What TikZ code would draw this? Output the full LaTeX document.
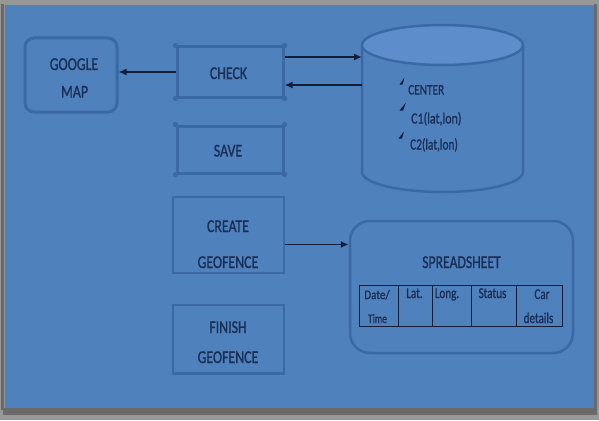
\documentclass[tikz,border=0pt]{standalone}
\usepackage{graphicx}
\usepackage{fontspec}
\setmainfont{Carlito}
\newfontfamily\lblfont[FakeBold=1.2]{Carlito}
\usetikzlibrary{arrows.meta,calc}
\definecolor{bgblue}{HTML}{4F81BD}
\definecolor{edgeblue}{HTML}{3B69A6}
\definecolor{topblue}{HTML}{5D8DCB}
\definecolor{ink}{HTML}{1A2F56}
\definecolor{arrowink}{HTML}{111E3A}
\definecolor{framegray}{HTML}{6A6A6A}
\newcommand\sq[2][0.77]{\scalebox{#1}[1]{#2}}
\tikzset{
  txt/.style={text=ink, inner sep=0pt, anchor=base, font=\lblfont\fontsize{18}{20}\selectfont},
  dbtxt/.style={text=ink, inner sep=0pt, anchor=base west, font=\lblfont\fontsize{15.5}{18}\selectfont},
  celltxt/.style={text=ink, inner sep=0pt, anchor=base, font=\lblfont\fontsize{15}{18}\selectfont},
  roundbox/.style={draw=edgeblue, line width=3pt, rounded corners=9pt, inner sep=0pt},
  thickbox/.style={draw=edgeblue, line width=3pt, inner sep=0pt},
  thinbox/.style={draw=edgeblue, line width=1.6pt, inner sep=0pt},
  conn/.style={draw=arrowink, line width=1.7pt, -{Latex[length=8pt,width=7pt]}},
  cell/.style={draw=arrowink, line width=1.2pt, minimum height=41pt, inner sep=0pt, anchor=north west},
  bullet/.style={fill=arrowink, draw=none}
}
\begin{document}
\begin{tikzpicture}[x=1pt,y=-1pt]
\useasboundingbox (0,0) rectangle (599,420);
% frame and background
\fill[framegray!70] (0,0) rectangle (599,420);
\fill[bgblue] (5,5) rectangle (594,410);
\fill[framegray] (3,408) rectangle (597,415);
\fill[framegray] (1,4) rectangle (4,410);
\fill[framegray] (594,4) rectangle (597,410);

% boxes
\node[roundbox, minimum width=92pt, minimum height=74pt] (google) at (71,75) {};
\node[thickbox, minimum width=106pt, minimum height=50pt] (check) at (230,72) {};
\node[thickbox, minimum width=106pt, minimum height=47pt] (save) at (230,149.5) {};
\node[thinbox, minimum width=111pt, minimum height=76pt] (create) at (228.5,235) {};
\node[thinbox, minimum width=111pt, minimum height=68pt] (finish) at (228.5,339) {};
\draw[edgeblue, line width=3pt] (finish.south west) -- (finish.south east);
\foreach \n in {check,save}{
  \foreach \a in {north west,north east,south west,south east}{
    \fill[edgeblue] (\n.\a) circle (2.6pt);
  }
}

% box labels
\node[txt] (googleA) at (74,70) {\sq{GOOGLE}};
\node[txt] (googleB) at (74.5,97.5) {\sq{MAP}};
\node[txt] (checkT) at (228.5,79) {\sq{CHECK}};
\node[txt] (saveT) at (228,156.5) {\sq{SAVE}};
\node[txt] (createA) at (228,232) {\sq{CREATE}};
\node[txt] (createB) at (228,268) {\sq{GEOFENCE}};
\node[txt] (finishA) at (228,333) {\sq{FINISH}};
\node[txt] (finishB) at (228,363) {\sq{GEOFENCE}};

% cylinder (database)
\coordinate (dbtop) at (442.5,45);
\draw[edgeblue, line width=2.5pt, fill=bgblue]
  (362,45) -- (362,172) arc[start angle=180, end angle=360, x radius=80.5pt, y radius=20pt] -- (523,45);
\draw[edgeblue, line width=2.5pt, fill=topblue] (dbtop) ellipse[x radius=80.5pt, y radius=20pt];
\node[minimum width=161pt, minimum height=127pt, inner sep=0pt] (db) at (442.5,108) {};

\node[dbtxt, font=\lblfont\fontsize{14.5}{16}\selectfont] (t1) at (408,94.5) {\sq[0.78]{CENTER}};
\node[dbtxt] (t2) at (411,123.5) {\sq{C1(lat,lon)}};
\node[dbtxt] (t3) at (410,149.5) {\sq[0.73]{C2(lat,lon)}};
\fill[bullet] (399.5,84.5) -- (404.5,77.5) -- (402.5,84.5) -- cycle;
\fill[bullet] (399.5,110.5) -- (406,102.5) -- (403,110.5) -- cycle;
\fill[bullet] (398.5,138.5) -- (404,131.5) -- (402,138.5) -- cycle;

% spreadsheet
\node[draw=edgeblue, line width=2.5pt, rounded corners=20pt, minimum width=223pt, minimum height=132pt] (sheet) at (461.5,287) {};
\node[txt] (sheettitle) at (461.5,268) {\sq[0.76]{SPREADSHEET}};
\node[cell, minimum width=39pt] (c1) at (359,285) {};
\node[cell, minimum width=34pt] (c2) at (398,285) {};
\node[cell, minimum width=39pt] (c3) at (432,285) {};
\node[cell, minimum width=45pt] (c4) at (471,285) {};
\node[cell, minimum width=46pt] (c5) at (516,285) {};
\node[celltxt, font=\lblfont\fontsize{13}{15}\selectfont] (c1a) at (377,299) {\sq[0.85]{Date/}};
\node[celltxt, font=\lblfont\fontsize{13}{15}\selectfont] (c1b) at (377.5,323) {\sq[0.72]{Time}};
\node[celltxt] (c2a) at (414.5,298) {\sq[0.74]{Lat.}};
\node[celltxt] (c3a) at (447,298) {\sq[0.74]{Long.}};
\node[celltxt] (c4a) at (492.5,298) {\sq[0.74]{Status}};
\node[celltxt] (c5a) at (542,299) {\sq[0.74]{Car}};
\node[celltxt] (c5b) at (538.5,323) {\sq[0.74]{details}};

% connectors
\coordinate (dbin) at (362,57);
\coordinate (dbout) at (362,85);
\coordinate (cs) at (300,244.5);
\draw[conn] (check.west) -- (google.east |- check.west);
\draw[conn] (check.east |- dbin) -- (dbin);
\draw[conn] (dbout) -- (check.east |- dbout);
\draw[conn] (create.east |- cs) -- (sheet.west |- cs);
\end{tikzpicture}
\end{document}
